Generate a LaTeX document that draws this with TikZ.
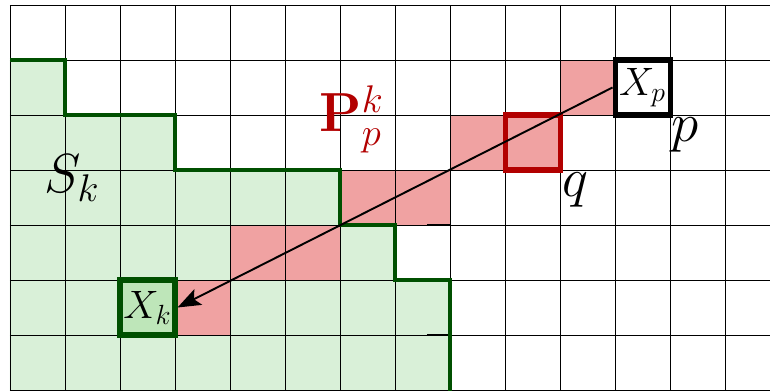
\documentclass[tikz,border=0pt]{standalone}
\usepackage{fix-cm}
\usetikzlibrary{arrows.meta}
\definecolor{lgreen}{RGB}{217,240,216}
\definecolor{mgreen}{RGB}{190,230,185}
\definecolor{dgreen}{RGB}{0,80,0}
\definecolor{lred}{RGB}{240,162,162}
\definecolor{dred}{RGB}{178,0,0}
\tikzset{
  gridline/.style={black, line width=0.5pt},
  redcell/.style={fill=lred},
  border/.style={dgreen, line width=2.4pt, line join=miter},
  cellnode/.style={minimum size=1cm, inner sep=0pt, line width=2.6pt},
  biglabel/.style={inner sep=0pt, font=\fontsize{28.5}{32}\selectfont},
  nodelabel/.style={font=\fontsize{20.5}{24}\selectfont},
}
\begin{document}
\begin{tikzpicture}[x=1cm,y=1cm]
\useasboundingbox (-0.1818,0.0909) rectangle (13.818,-7.0);
% green region
\fill[lgreen] (0,-1) -- (1,-1) -- (1,-2) -- (3,-2) -- (3,-3) -- (6,-3) -- (6,-4) -- (7,-4) -- (7,-5) -- (8,-5) -- (8,-7.3) -- (0,-7.3) -- cycle;
% red path cells
\foreach \i/\j in {10/1, 8/2, 9/2, 6/3, 7/3, 4/4, 5/4, 3/5}
  \fill[redcell] (\i,-\j) rectangle ++(1,-1);
% grid
\draw[gridline] (0,-7) grid (14.5,0);
% small dark segments
\draw[black, line width=0.9pt] (7.58,-4) -- (8,-4);
\draw[black, line width=0.9pt] (7.58,-6) -- (8,-6);
% boundary of S_k
\draw[border] (0,-1) -- (1,-1) -- (1,-2) -- (3,-2) -- (3,-3) -- (6,-3) -- (6,-4) -- (7,-4) -- (7,-5) -- (8,-5) -- (8,-7.3);
% q box
\node[cellnode, draw=dred] (q) at (9.5,-2.5) {};
% X_p and X_k
\node[cellnode, draw=black, fill=white, nodelabel] (Xp) at (11.5,-1.5) {$X_p$};
\node[cellnode, draw=dgreen, fill=mgreen, nodelabel] (Xk) at (2.5,-5.5) {$X_k$};
% arrow
\draw[line width=1pt, -{Stealth[length=12pt,width=9pt,inset=2.5pt]}] (Xp.west) -- (Xk.east);
% labels
\node[biglabel, anchor=base west] (Sk) at (0.62,-3.418) {$S_k$};
\node[biglabel, anchor=base west, text=dred] (P) at (5.62,-2.309) {$\mathbf{P}_p^k$};
\node[biglabel, anchor=base west] (plab) at (12.02,-2.473) {$p$};
\node[biglabel, anchor=base west] (qlab) at (10.04,-3.473) {$q$};
\end{tikzpicture}
\end{document}
